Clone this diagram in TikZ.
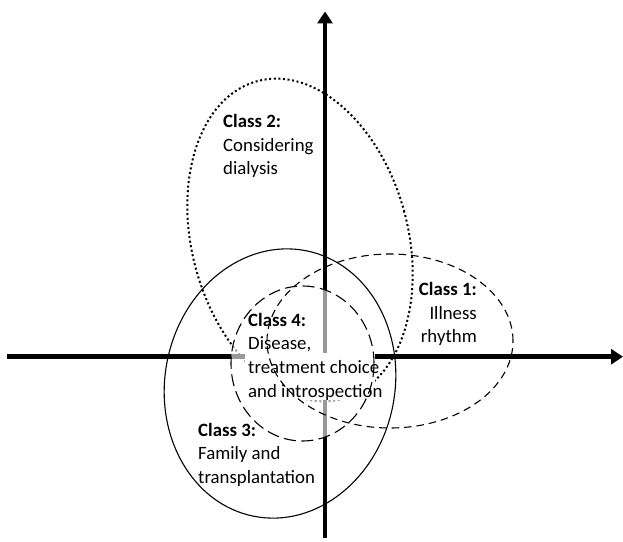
\documentclass[tikz,border=0pt]{standalone}
\usepackage{fontspec}
\setmainfont{Carlito}
\usetikzlibrary{arrows.meta}
\begin{document}
\begin{tikzpicture}[x=1pt,y=1pt,
  axis/.style={line width=4.5pt,-{Triangle[width=15pt,length=12pt]}},
  ring/.style={line width=1.1pt},
  dotring/.style={line width=2pt,dash pattern=on 2pt off 2.6pt},
  shortdash/.style={line width=1.1pt,dash pattern=on 7.5pt off 5pt},
  longdash/.style={line width=1.1pt,dash pattern=on 12pt off 5.5pt},
  lbl/.style={inner sep=0pt,font=\fontsize{18.8}{23.5}\selectfont}]
\useasboundingbox (0,0) rectangle (623,541);
% axes
\coordinate (hl) at (7,184.3);
\coordinate (hr) at (623,184.3);
\coordinate (vb) at (325,3);
\coordinate (vt) at (325,529.5);
\draw[axis] (hl) -- (hr);
\draw[axis] (vb) -- (vt);
% class 2 (dotted)
\draw[dotring, rotate around={15:(300,301)}] (300,301) ellipse [x radius=108pt, y radius=164.5pt];
% veil of class 4
\fill[white, opacity=0.6] (302.5,177.5) ellipse [x radius=71.5pt, y radius=77.5pt];
\fill[white] (245,188) rectangle (375,141);
% class 1 (short dashes)
\draw[shortdash] (390,200) ellipse [x radius=123pt, y radius=87pt];
% class 3 (solid)
\draw[ring, rotate around={-11:(280,157.5)}] (280,157.5) ellipse [x radius=115pt, y radius=135.3pt];
% class 4 (long dashes)
\draw[longdash] (302.5,177.5) ellipse [x radius=71.5pt, y radius=77.5pt];
% labels (anchor = baseline of last line)
\node[lbl, align=left, anchor=base west] (t2) at (223,366) {\textbf{Class 2:}\\Considering\\dialysis};
\node[lbl, align=right, anchor=base east] (t1) at (477,198) {\textbf{Class 1:}\\Illness\\rhythm};
\node[lbl, align=left, anchor=base west] (t4) at (248,144) {\textbf{Class 4:}\\Disease,\\treatment choice\\and introspection};
\node[lbl, align=left, anchor=base west] (t3) at (198,58) {\textbf{Class 3:}\\Family and\\transplantation};
\end{tikzpicture}
\end{document}
